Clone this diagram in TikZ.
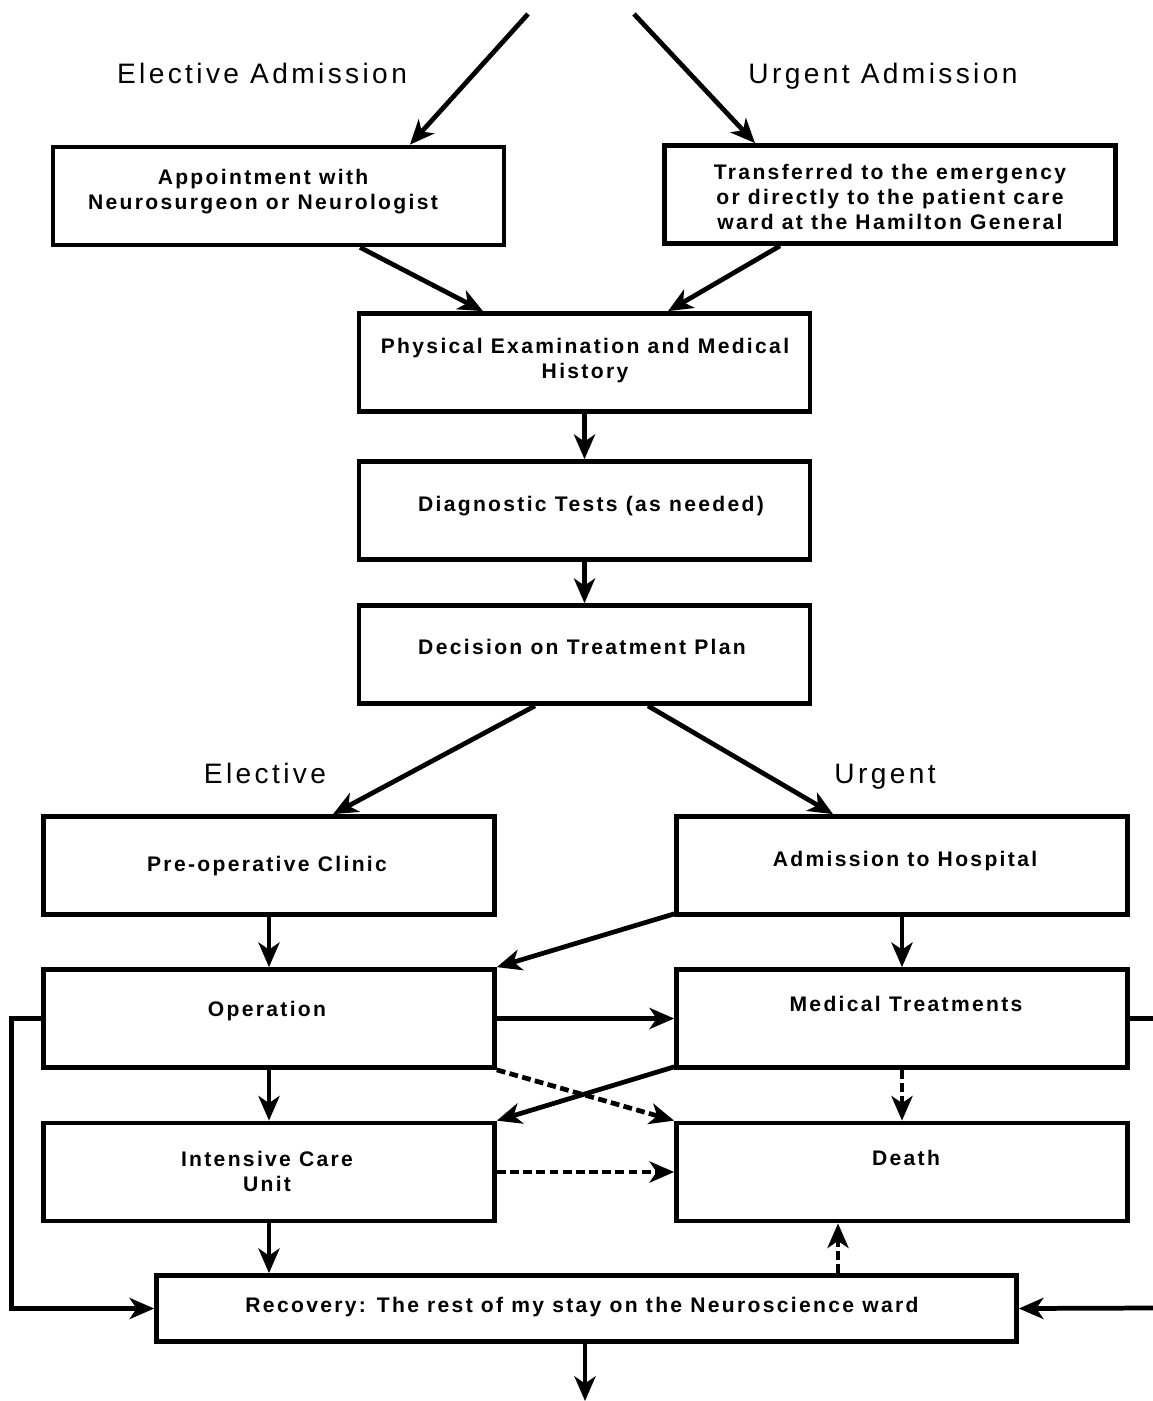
\documentclass[tikz,border=0pt]{standalone}
\usepackage{fontspec}
\setmainfont{Liberation Sans}
\usetikzlibrary{arrows.meta}
\tikzset{
  box/.style={draw, line width=2.7pt, minimum width=9.02cm, minimum height=1.96cm, inner sep=0pt},
  boxtext/.style={font=\fontsize{12}{14.2}\selectfont\bfseries\addfontfeatures{LetterSpace=11}, align=center, inner sep=0pt},
  headtext/.style={font=\fontsize{16}{19}\selectfont\addfontfeatures{LetterSpace=12}, inner sep=0pt, text height=0.75em, text depth=0.22em},
  flow/.style={line width=2.7pt, -{Stealth[length=14pt,width=12pt,inset=4pt]}},
  maybe/.style={flow, dash pattern=on 5pt off 2.5pt}
}
\begin{document}
\begin{tikzpicture}[x=0.02cm, y=-0.02cm]
            \useasboundingbox (0,0) rectangle (1153,1401);
            % define point
            \coordinate (tl)  at (528,14);
            \coordinate (tr)  at (634,14);
            \coordinate (rin) at (1153,1308);
            \coordinate (out) at (585,1401);
            % boxes
            \node[box] (appt)  at (278.5,196)   {};
            \node[box] (trans) at (890,194.5)   {};
            \node[box] (phys)  at (584.5,362.5) {};
            \node[box] (diag)  at (584.5,510.5) {};
            \node[box] (dec)   at (584.5,654.5) {};
            \node[box] (preop) at (269,865.5)   {};
            \node[box] (adm)   at (902,865.5)   {};
            \node[box] (op)    at (269,1018.5)  {};
            \node[box] (med)   at (902,1018.5)  {};
            \node[box] (icu)   at (269,1172)    {};
            \node[box] (death) at (902,1172)    {};
            \node[box, minimum width=17.2cm, minimum height=1.32cm] (recov) at (586.5,1308.5) {};
            % texts
            \node[headtext] (lea) at (262,79)  {Elective Admission};
            \node[headtext] (lua) at (883,79)  {Urgent Admission};
            \node[headtext] (le)  at (265,779) {Elective};
            \node[headtext] (lu)  at (885,779) {Urgent};
            \node[boxtext] (tappt)  at (263,192)  {Appointment with\\Neurosurgeon or Neurologist};
            \node[boxtext] (ttrans) at (890,197)  {Transferred to the emergency\\or directly to the patient care\\ward at the Hamilton General};
            \node[boxtext] (tphys)  at (585,361)  {Physical Examination and Medical\\History};
            \node[boxtext] (tdiag)  at (591,506)  {Diagnostic Tests (as needed)};
            \node[boxtext] (tdec)   at (582,647)  {Decision on Treatment Plan};
            \node[boxtext] (tpreop) at (267,866)  {Pre-operative Clinic};
            \node[boxtext] (tadm)   at (905,861)  {Admission to Hospital};
            \node[boxtext] (top)    at (267,1011) {Operation};
            \node[boxtext] (tmed)   at (906,1004) {Medical Treatments};
            \node[boxtext] (ticu)   at (267,1171) {Intensive Care\\Unit};
            \node[boxtext] (tdeath) at (906,1158) {Death};
            \node[boxtext] (trecov) at (582,1307) {Recovery: The rest of my stay on the Neuroscience ward};
            % arrows
            \draw[flow] (tl) -- ([xshift=2.63cm]appt.north);
            \draw[flow] (tr) -- ([xshift=-2.7cm]trans.north);
            \draw[flow] ([xshift=1.63cm]appt.south) -- ([xshift=-2.03cm]phys.north);
            \draw[flow] ([xshift=-2.2cm]trans.south) -- ([xshift=1.67cm]phys.north);
            \draw[flow] (phys) -- (diag);
            \draw[flow] (diag) -- (dec);
            \draw[flow] ([xshift=-0.99cm]dec.south) -- ([xshift=1.28cm]preop.north);
            \draw[flow] ([xshift=1.27cm]dec.south) -- ([xshift=-1.38cm]adm.north);
            \draw[flow] (preop) -- (op);
            \draw[flow] (adm) -- (med);
            \draw[flow] ([yshift=0.06cm]adm.south west) -- (op.north east);
            \draw[flow] (op.east) -- (med.west);
            \draw[flow] (op) -- (icu);
            \draw[flow] ([yshift=0.06cm]med.south west) -- (icu.north east);
            \draw[maybe] (op.south east) -- (death.north west);
            \draw[maybe] (med) -- (death);
            \draw[maybe] (icu.east) -- (death.west);
            \draw[flow] (icu.south) -- (icu.south |- recov.north);
            \draw[maybe] ([xshift=-1.28cm]death.south |- recov.north) -- ([xshift=-1.28cm]death.south);
            \draw[flow] (op.west) -- ++(-0.6cm,0) |- (recov.west);
            \draw[line width=2.7pt] (med.east) -- (med.east -| rin);
            \draw[flow] (rin) -- (recov.east);
            \draw[flow] (recov.south -| out) -- (out);
        \end{tikzpicture}
\end{document}
